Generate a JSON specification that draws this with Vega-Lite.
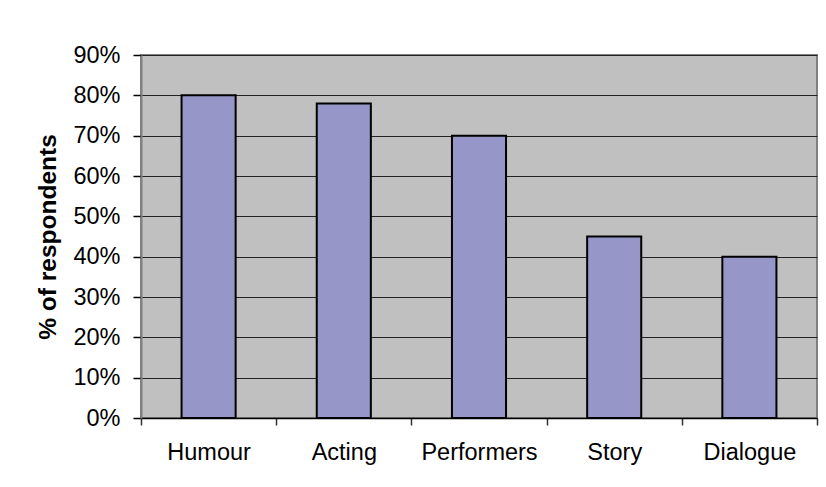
{
  "$schema": "https://vega.github.io/schema/vega-lite/v6.json",
  "width": 676,
  "height": 363,
  "autosize": {"type": "none"},
  "padding": {"left": 141, "top": 55, "right": 9, "bottom": 69},
  "background": "white",
  "data": {
    "values": [
      {"aspect": "Humour", "share": 0.80},
      {"aspect": "Acting", "share": 0.78},
      {"aspect": "Performers", "share": 0.70},
      {"aspect": "Story", "share": 0.45},
      {"aspect": "Dialogue", "share": 0.40}
    ]
  },
  "mark": {"type": "bar", "fill": "#9696C8", "stroke": "black", "strokeWidth": 2, "width": {"band": 0.4}},
  "encoding": {
    "x": {
      "field": "aspect",
      "type": "nominal",
      "sort": null,
      "scale": {"paddingInner": 0, "paddingOuter": 0},
      "axis": {
        "title": null,
        "labelAngle": 0,
        "tickBand": "extent",
        "domainColor": "black",
        "domainWidth": 1.5,
        "tickColor": "#333",
        "tickSize": 7,
        "tickWidth": 1.5,
        "labelPadding": 15,
        "grid": false
      }
    },
    "y": {
      "field": "share",
      "type": "quantitative",
      "scale": {"domain": [0, 0.9], "nice": false},
      "axis": {
        "title": "% of respondents",
        "format": ".0%",
        "values": [0, 0.1, 0.2, 0.3, 0.4, 0.5, 0.6, 0.7, 0.8, 0.9],
        "grid": true,
        "gridColor": "#222",
        "gridWidth": 1,
        "domainColor": "#808080",
        "domainWidth": 2,
        "tickColor": "black",
        "tickSize": 8,
        "tickWidth": 1.5,
        "labelPadding": 13,
        "titlePadding": 12,
        "titleFontWeight": "bold",
        "titleFontSize": 24.5
      }
    }
  },
  "config": {
    "view": {"fill": "#C0C0C0", "stroke": "#808080", "strokeWidth": 2},
    "axis": {
      "labelFont": "Liberation Sans",
      "titleFont": "Liberation Sans",
      "labelFontSize": 23.5,
      "labelColor": "black",
      "titleColor": "black"
    }
  }
}
